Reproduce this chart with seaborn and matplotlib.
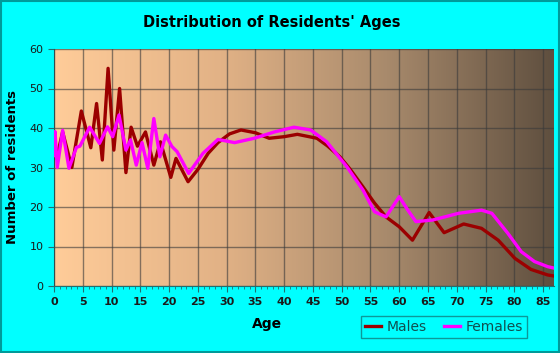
import numpy as np
import pandas as pd
from matplotlib import pyplot as plt
from matplotlib.colors import LinearSegmentedColormap
from matplotlib.patches import Rectangle
import seaborn as sns

# values
male_age = [0, 0.45, 1.5, 3.1, 4.75, 6.4, 7.4, 8.4, 9.4, 10.4, 11.4, 12.5, 13.4, 14.5, 15.9,
            17.35, 18.5, 20.3, 21.2, 23.3, 25, 26.8, 28.5, 30.5, 32.5, 35, 37.4, 40, 42.3,
            45.7, 47.5, 49.7, 51.5, 53.7, 55.7, 57.7, 60, 62.3, 65.2, 67.8, 71.2, 74.3,
            77.2, 80.1, 82.9, 85.8, 87]
male_res = [36, 32.3, 39, 30, 44.3, 35, 46.2, 31.9, 55.1, 34.4, 50, 28.7, 40.2, 35.4, 39,
            30.6, 36.5, 27.5, 32.3, 26.4, 29.5, 33.6, 36.3, 38.5, 39.5, 38.8, 37.4, 37.8, 38.4,
            37.4, 35.5, 32.7, 29.5, 25.1, 21, 17.5, 15, 11.6, 18.6, 13.5, 15.7, 14.6,
            11.6, 7, 4.2, 2.8, 2.5]

female_age = [0, 0.17, 0.57, 1.5, 2.6, 3.9, 4.5, 6.2, 7.9, 9.3, 10.2, 11.3, 12.5, 13.3, 14.3,
              15.3, 16.3, 17.35, 18.4, 19.4, 20.5, 21.4, 23.4, 25.9, 28.5, 31.4, 34.8, 38.3,
              41.7, 44.6, 47.4, 50.9, 53.7, 55.7, 57.7, 60, 61.5, 62.9, 65.8, 70.3, 74.3,
              76.1, 78.9, 81.2, 83.5, 85.8, 87]
female_res = [33, 39.1, 30, 39.4, 29.8, 35.1, 35.4, 40.2, 36.1, 40.3, 37.8, 43.3, 34.4, 37, 30.6,
              36.3, 29.8, 42.4, 32.7, 38.2, 35.3, 34, 28.5, 33.6, 37.1, 36.3, 37.4, 39,
              40.2, 39.5, 36.5, 30.2, 24.3, 18.8, 17.5, 22.6, 19.2, 16.3, 16.7, 18.4, 19.2,
              18.4, 13.3, 8.7, 6.2, 4.9, 4.5]

df = pd.concat([
    pd.DataFrame({'Age': male_age, 'Residents': male_res, 'Sex': 'Males'}),
    pd.DataFrame({'Age': female_age, 'Residents': female_res, 'Sex': 'Females'}),
])

W, H = 560, 353
fig = plt.figure(figsize=(W / 100, H / 100), dpi=100, facecolor='#00ffff')
ax = fig.add_axes([54 / W, (H - 286) / H, 500 / W, 237 / H])
fig.add_artist(Rectangle((0.001, 0.002), 0.997, 0.995, transform=fig.transFigure,
                         fill=False, edgecolor='#009a9a', lw=1.5))

# brown gradient background
grad_cmap = LinearSegmentedColormap.from_list('bg', ['#ffcc99', '#e2b286', '#a88a6c', '#5f4f3f'])
ax.imshow(np.linspace(0, 1, 256)[None, :], cmap=grad_cmap, aspect='auto',
          extent=[0, 1, 0, 1], transform=ax.transAxes, zorder=0)

sns.lineplot(data=df, x='Age', y='Residents', hue='Sex', estimator=None,
             palette={'Males': '#9b0000', 'Females': '#ff00ff'},
             lw=2.4, legend=False, ax=ax, zorder=3)

ax.set_xlim(0, 86.9)
ax.set_ylim(0, 60)
ax.set_xticks(np.arange(0, 86, 5))
ax.set_xticks(np.arange(0, 87, 1), minor=True)
ax.set_yticks(np.arange(0, 61, 10))
ax.grid(True, which='major', color='#3a3a3a', alpha=0.6, lw=1, zorder=1)
ax.set_axisbelow(False)
for s in ['top', 'right']:
    ax.spines[s].set_visible(False)
for s in ['left', 'bottom']:
    ax.spines[s].set_color('#207070')
ax.tick_params(axis='x', which='major', length=4, labelsize=8, colors='#207070',
               labelcolor='#1a1a1a', pad=4)
ax.tick_params(axis='x', which='minor', length=2, colors='#207070')
ax.tick_params(axis='y', length=4, labelsize=8, colors='#207070', labelcolor='#1a1a1a')
for lbl in ax.get_xticklabels():
    lbl.set_fontweight('bold')

ax.set_xlabel('')
ax.set_ylabel('')
fig.text(267 / W, 1 - 324 / H, 'Age', ha='center', va='center', fontsize=10, fontweight='bold')
fig.text(13 / W, 1 - 167 / H, 'Number of residents', ha='center', va='center',
         rotation=90, fontsize=9.5, fontweight='bold')
fig.text(272 / W, 1 - 23 / H, "Distribution of Residents' Ages", ha='center', va='center',
         fontsize=10.5, fontweight='bold')

handles = [plt.Line2D([], [], color='#9b0000', lw=2.4),
           plt.Line2D([], [], color='#ff00ff', lw=2.4)]
leg = fig.legend(handles, ['Males', 'Females'], loc='center',
                 bbox_to_anchor=(444 / W, 1 - 327 / H), ncols=2, fontsize=10,
                 frameon=True, fancybox=False, handlelength=1.2, handletextpad=0.4,
                 columnspacing=1.2, borderpad=0.3)
leg.get_frame().set_facecolor('#00ffff')
leg.get_frame().set_edgecolor('#108080')
for t in leg.get_texts():
    t.set_color('#105050')

fig.savefig('out.png', dpi=100, facecolor=fig.get_facecolor())
